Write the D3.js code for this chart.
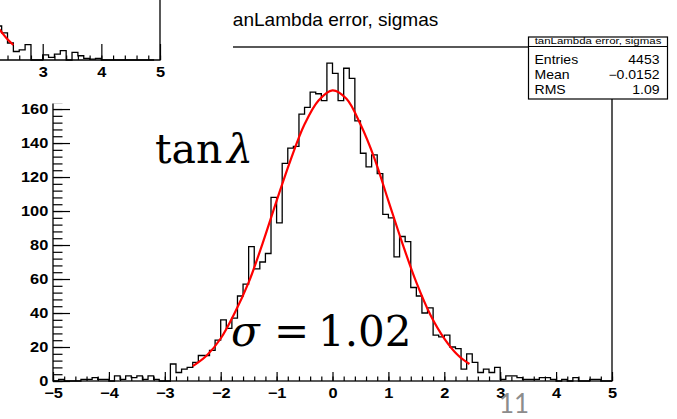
<!DOCTYPE html>
<html>
<head>
<meta charset="utf-8">
<script src="https://cdn.jsdelivr.net/npm/d3@7"></script>
<style>
  body { margin: 0; background: #fff; }
  svg { display: block; }
</style>
</head>
<body>
<div id="chart"></div>
<script>
// main histogram: 100 bins of 0.1 from -5 to 5
const binLow = -5;
const binWidth = 0.1;
const counts = [
  0, 1, 0, 0, 0, 1, 1, 2, 1, 1,          // -5.0 .. -4.1
  0, 3, 1, 3, 2, 3, 1, 3, 1, 0,          // -4.0 .. -3.1
  0, 10, 5, 7, 8, 11, 15, 15, 18, 24,    // -3.0 .. -2.1
  36, 31, 37, 50, 57, 79, 66, 70, 75, 108, // -2.0 .. -1.1
  93, 128, 137, 138, 157, 161, 170, 169, 165, 187, // -1.0 .. -0.1
  181, 165, 184, 178, 153, 134, 126, 133, 122, 98, // 0.0 .. 0.9
  96, 73, 85, 82, 55, 50, 40, 43, 27, 26,  // 1.0 .. 1.9
  27, 20, 19, 7, 16, 11, 5, 7, 5, 8,       // 2.0 .. 2.9
  1, 3, 3, 2, 1, 1, 1, 2, 2, 1,            // 3.0 .. 3.9
  0, 1, 0, 2, 0, 0, 1, 1, 0, 0             // 4.0 .. 4.9
];

// red gaussian fit
const fitX = [-2.5, -2.25, -2.0, -1.75, -1.5, -1.25, -1.0, -0.75, -0.5, -0.25, 0, 0.25, 0.5, 0.75, 1.0, 1.25, 1.5, 1.75, 2.0, 2.25, 2.45];
const fitY = [8.7, 15, 25, 40, 58, 81, 106, 130, 151, 165, 171, 166, 151, 131, 106, 81, 58, 39, 25, 15, 10];

const xTicks = [-5, -4, -3, -2, -1, 0, 1, 2, 3, 4, 5];
const yTicks = [0, 20, 40, 60, 80, 100, 120, 140, 160];

const titleText = "tanLambda error, sigmas";
const statNames = ["Entries", "Mean", "RMS"];
const statValues = ["4453", "\u22120.0152", "1.09"];

// corner of the previous plot that overlaps the slide
const insetLow = 2.2;
const insetCounts = [20, 16, 10, 5, 6, 9, 0, 0, 3, 1.5, 3.5, 5.5, 0, 4.5, 2.5, 1, 0.5, 1, 0, 0, 0, 0, 0, 0, 0, 0, 0, 0];
const insetFitX = [2.15, 2.27, 2.38, 2.5];
const insetFitY = [22, 17.6, 13, 8.8];
const insetTicks = [3, 4, 5];

const W = 677, H = 419;
const sx = 1.17; // the ROOT picture is stretched sideways on the slide
const rootFont = "'Liberation Sans', Arial, Helvetica, sans-serif";
const fmt = d => (d < 0 ? "\u2212" : "") + Math.abs(d);

const svg = d3.select("#chart").append("svg")
    .attr("width", W)
    .attr("height", H);

svg.append("rect").attr("width", W).attr("height", H).attr("fill", "#fff");

const x = d3.scaleLinear().domain([-5, 5]).range([53, 612]);
const y = d3.scaleLinear().domain([0, 196.5]).range([381, 47]);

// --- main plot ---
const plot = svg.append("g");

function styleTicks(g) {
  g.attr("font-family", rootFont).attr("font-size", 14);
  g.select(".domain").remove();
  g.selectAll("line").attr("stroke-width", 1.2);
  g.selectAll("text")
    .attr("font-weight", "bold")
    .attr("fill", "#000")
    .attr("transform", `scale(${sx},1)`);
}

// x minor ticks every 0.2
plot.append("g")
    .attr("transform", `translate(0,${y(0)})`)
    .call(d3.axisBottom(x).tickValues(d3.range(-50, 51, 2).map(d => d / 10))
      .tickSizeInner(-4.5).tickSizeOuter(0).tickFormat(""))
    .call(styleTicks);
// x major ticks
plot.append("g")
    .attr("transform", `translate(0,${y(0)})`)
    .call(d3.axisBottom(x).tickValues(xTicks)
      .tickSizeInner(-9).tickSizeOuter(0).tickPadding(7).tickFormat(fmt))
    .call(styleTicks);

// y minor ticks every 4
plot.append("g")
    .attr("transform", `translate(${x(-5)},0)`)
    .call(d3.axisLeft(y).tickValues(d3.range(0, 197, 4))
      .tickSizeInner(-9.5).tickSizeOuter(0).tickFormat(""))
    .call(styleTicks);
// y major ticks
plot.append("g")
    .attr("transform", `translate(${x(-5)},0)`)
    .call(d3.axisLeft(y).tickValues(yTicks)
      .tickSizeInner(-17).tickSizeOuter(0).tickPadding(4).tickFormat(d3.format("d")))
    .call(styleTicks);

// histogram outline
const histPts = counts.map((c, i) => [binLow + i * binWidth, c]);
histPts.push([binLow + counts.length * binWidth, counts[counts.length - 1]]);

plot.append("path")
    .datum(histPts)
    .attr("fill", "none")
    .attr("stroke", "#000")
    .attr("stroke-width", 1.3)
    .attr("d", d3.line().x(d => x(d[0])).y(d => y(d[1])).curve(d3.curveStepAfter));

// fit
plot.append("path")
    .datum(fitX.map((v, i) => [v, fitY[i]]))
    .attr("fill", "none")
    .attr("stroke", "#ff0000")
    .attr("stroke-width", 2.2)
    .attr("d", d3.line().x(d => x(d[0])).y(d => y(d[1])).curve(d3.curveCatmullRom));

// frame
plot.append("rect")
    .attr("x", x(-5)).attr("y", y(196.5))
    .attr("width", x(5) - x(-5)).attr("height", y(0) - y(196.5))
    .attr("fill", "none")
    .attr("stroke", "#000")
    .attr("stroke-width", 1.3);

// title
plot.append("text")
    .attr("transform", "translate(227.5,26) scale(1.06,1)")
    .attr("font-family", rootFont)
    .attr("font-size", 18)
    .attr("fill", "#000")
    .text(titleText);

// stats box
const stats = plot.append("g").attr("transform", "translate(528.5,37)");
stats.append("rect")
    .attr("width", 139).attr("height", 62)
    .attr("fill", "#fff").attr("stroke", "#000").attr("stroke-width", 1.2);
stats.append("line")
    .attr("x1", 0).attr("x2", 139).attr("y1", 9.5).attr("y2", 9.5)
    .attr("stroke", "#000").attr("stroke-width", 1);
stats.append("text")
    .attr("transform", `translate(69.5,7.2) scale(${sx},1)`)
    .attr("text-anchor", "middle")
    .attr("font-family", rootFont)
    .attr("font-size", 9.8)
    .text(titleText);
statNames.forEach((name, i) => {
  const by = 27 + i * 15.2;
  stats.append("text")
      .attr("transform", `translate(6,${by}) scale(${sx},1)`)
      .attr("font-family", rootFont)
      .attr("font-size", 12)
      .text(name);
  stats.append("text")
      .attr("transform", `translate(131,${by}) scale(${sx},1)`)
      .attr("text-anchor", "end")
      .attr("font-family", rootFont)
      .attr("font-size", 12)
      .text(statValues[i]);
});

// --- overlapping corner of the previous plot ---
const inset = svg.append("g");
inset.append("rect")
    .attr("x", 0).attr("y", 0).attr("width", 233).attr("height", 103.5)
    .attr("fill", "#fff");

const ix = d3.scaleLinear().domain([3, 5]).range([42.7, 160]);
const iy = d3.scaleLinear().domain([0, 35]).range([60, 60 - 35 * 1.7]);

const insetPts = insetCounts.map((c, i) => [insetLow + i * binWidth, c]);
inset.append("path")
    .datum(insetPts)
    .attr("fill", "none")
    .attr("stroke", "#000")
    .attr("stroke-width", 1.3)
    .attr("d", d3.line().x(d => ix(d[0])).y(d => iy(d[1])).curve(d3.curveStepAfter));

inset.append("path")
    .datum(insetFitX.map((v, i) => [v, insetFitY[i]]))
    .attr("fill", "none")
    .attr("stroke", "#ff0000")
    .attr("stroke-width", 2.2)
    .attr("d", d3.line().x(d => ix(d[0])).y(d => iy(d[1])).curve(d3.curveCatmullRom));

inset.append("g")
    .attr("transform", `translate(0,${iy(0)})`)
    .call(d3.axisBottom(ix).tickValues(d3.range(22, 51, 2).map(d => d / 10))
      .tickSizeInner(-4.5).tickSizeOuter(0).tickFormat(""))
    .call(styleTicks);
inset.append("g")
    .attr("transform", `translate(0,${iy(0)})`)
    .call(d3.axisBottom(ix).tickValues(insetTicks)
      .tickSizeInner(-16).tickSizeOuter(0).tickPadding(7).tickFormat(fmt))
    .call(styleTicks);

inset.append("path")
    .attr("d", `M0,${iy(0)}H${ix(5)}V0`)
    .attr("fill", "none")
    .attr("stroke", "#000")
    .attr("stroke-width", 1.3);

// --- slide annotations ---
const serif = "'DejaVu Serif', 'Liberation Serif', serif";
const tanLabel = svg.append("text")
    .attr("y", 163)
    .attr("font-family", serif)
    .attr("font-size", 41)
    .attr("fill", "#000");
tanLabel.append("tspan").attr("x", 155).text("tan");
tanLabel.append("tspan").attr("x", 227).attr("font-style", "italic").text("\u03bb");

const sigLabel = svg.append("text")
    .attr("y", 346)
    .attr("font-family", serif)
    .attr("font-size", 42)
    .attr("fill", "#000");
sigLabel.append("tspan").attr("x", 231).attr("font-style", "italic").text("\u03c3");
sigLabel.append("tspan").attr("x", 274).text("=");
sigLabel.append("tspan").attr("x", 318).text("1.02");

// slide page number
svg.append("text")
    .attr("x", 499)
    .attr("y", 413)
    .attr("font-family", "Lato, 'Open Sans', sans-serif")
    .attr("font-size", 26)
    .attr("fill", "#8c8c8c")
    .text("11");
</script>
</body>
</html>
